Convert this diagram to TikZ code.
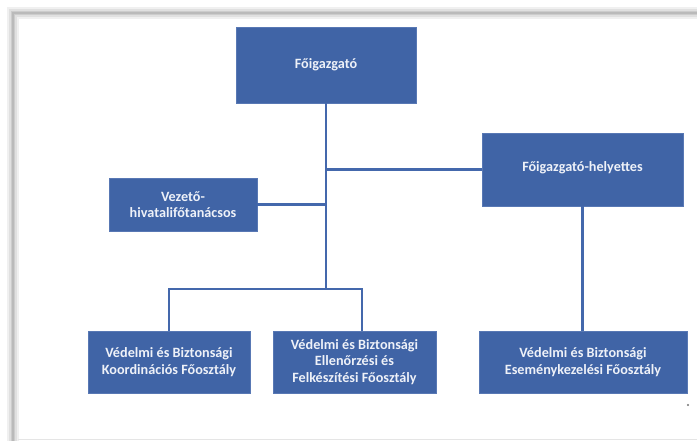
\documentclass[tikz,border=0pt]{standalone}
\usepackage{fontspec}
\setmainfont{Carlito}
\definecolor{boxblue}{HTML}{4064A6}
\definecolor{boxedge}{HTML}{5878B4}
\definecolor{linkblue}{HTML}{4468AC}
\definecolor{txt}{HTML}{EEF1F8}
\begin{document}
\begin{tikzpicture}[x=1pt,y=-1pt,
  orgbox/.style={draw=boxedge,line width=0.8pt,fill=boxblue,text=txt,
    align=center,inner sep=2pt,font=\fontsize{14.2}{16.3}\selectfont\bfseries},
  link/.style={draw=linkblue,line width=2.6pt}]
\useasboundingbox (0,0) rectangle (697,441);
\fill[white] (0,0) rectangle (697,441);
% shadowed frame
\draw[line width=12pt,black!6] (13,445) -- (13,13) -- (705,13);
\draw[line width=8pt,black!12] (13,445) -- (13,13) -- (705,13);
\draw[line width=4.5pt,black!20] (13,445) -- (13,13) -- (705,13);
\draw[line width=2pt,black!27] (13,445) -- (13,13) -- (705,13);
\draw[line width=1pt,black!10] (18,439.5) -- (697,439.5);
% boxes
\node[orgbox,minimum width=180pt,minimum height=76pt] (fo) at (326,65) {Főigazgató};
\node[orgbox,minimum width=201pt,minimum height=73pt] (hely) at (582.5,169.5) {\raisebox{6pt}{Főigazgató-helyettes}};
\node[orgbox,minimum width=148pt,minimum height=53pt] (vez) at (183,204.5) {Vezető-\\hivatalifőtanácsos};
\node[orgbox,minimum width=162pt,minimum height=62pt] (b1) at (169,362) {Védelmi és Biztonsági\\Koordinációs Főosztály};
\node[orgbox,minimum width=163pt,minimum height=62pt] (b2) at (354.5,362) {Védelmi és Biztonsági\\Ellenőrzési és\\Felkészítési Főosztály};
\node[orgbox,minimum width=208pt,minimum height=62pt] (b3) at (583,362) {Védelmi és Biztonsági\\Eseménykezelési Főosztály};
% connectors
\coordinate (jb) at (326,289);
\coordinate (jr) at (362,289);
\coordinate (jl) at (169,289);
\draw[link] (fo.south) -- (jb);
\draw[link] (fo.south |- hely.west) -- (hely.west);
\draw[link] (vez.east) -- (vez.east -| fo.south);
\draw[link] (b1.north) -- (jl) -- (jr) -- (jr |- b2.north);
\draw[link] (hely.south) -- (hely.south |- b3.north);
% small mark
\fill[black!55] (688,405) circle (1.1pt);
\end{tikzpicture}
\end{document}
